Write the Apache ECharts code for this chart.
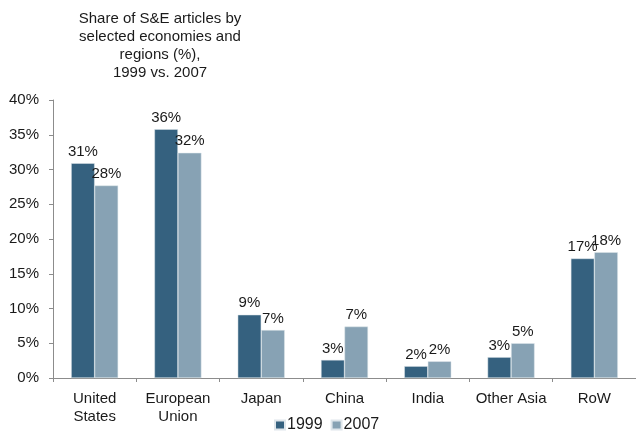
<!DOCTYPE html>
<html>
<head>
<meta charset="utf-8">
<script src="https://cdn.jsdelivr.net/npm/echarts@6/dist/echarts.min.js"></script>
<style>
  html, body { margin: 0; padding: 0; background: #fff; }
  #chart { width: 636px; height: 432px; }
</style>
</head>
<body>
<div id="chart"></div>
<script>
// Share of S&E articles, in percent
const categories = ['United\nStates', 'European\nUnion', 'Japan', 'China', 'India', 'Other Asia', 'RoW'];
const share1999 = [30.9, 35.8, 9.1, 2.6, 1.7, 3.0, 17.2];
const share2007 = [27.7, 32.4, 6.9, 7.4, 2.4, 5.0, 18.1];
const yTicks = [0, 5, 10, 15, 20, 25, 30, 35, 40];

const FONT = '"Liberation Sans", Arial, sans-serif';
const DARK = '#35617f';
const LIGHT = '#87a2b4';

const chart = echarts.init(document.getElementById('chart'), null, { renderer: 'canvas' });

const labelStyle = {
  show: true,
  position: 'top',
  distance: 4,
  fontFamily: FONT,
  fontSize: 15,
  color: '#1a1a1a',
  formatter: p => Math.round(p.value) + '%'
};

chart.setOption({
  animation: false,
  title: {
    text: 'Share of S&E articles by\nselected economies and\nregions (%),\n1999 vs. 2007',
    left: 155,
    top: 5,
    textAlign: 'center',
    textStyle: {
      fontFamily: FONT,
      fontSize: 15,
      fontWeight: 'normal',
      color: '#1a1a1a',
      lineHeight: 18
    }
  },
  legend: {
    top: 412,
    left: 269,
    itemWidth: 10,
    itemHeight: 9,
    itemGap: 8,
    icon: 'rect',
    textStyle: { fontFamily: FONT, fontSize: 16, color: '#1a1a1a', padding: [0, 0, 0, -3] },
    data: ['1999', '2007']
  },
  grid: {
    left: 53,
    top: 100,
    width: 590,
    height: 278,
    containLabel: false
  },
  xAxis: {
    type: 'category',
    data: categories,
    axisLine: { lineStyle: { color: '#8c8c8c', width: 1 } },
    axisTick: { show: true, length: 4, lineStyle: { color: '#8c8c8c' } },
    axisLabel: {
      fontFamily: FONT,
      fontSize: 15,
      color: '#1a1a1a',
      lineHeight: 18,
      margin: 12,
      interval: 0
    }
  },
  yAxis: {
    type: 'value',
    min: yTicks[0],
    max: yTicks[yTicks.length - 1],
    interval: yTicks[1] - yTicks[0],
    splitLine: { show: false },
    axisLine: { show: true, lineStyle: { color: '#8c8c8c', width: 1 } },
    axisTick: { show: true, length: 4, lineStyle: { color: '#8c8c8c' } },
    axisLabel: {
      fontFamily: FONT,
      fontSize: 15,
      color: '#1a1a1a',
      margin: 14,
      formatter: v => v + '%'
    }
  },
  series: [
    {
      name: '1999',
      type: 'bar',
      data: share1999,
      barWidth: 23.5,
      barGap: '0%',
      itemStyle: { color: DARK, borderColor: '#dfe6eb', borderWidth: 0.5 },
      label: labelStyle
    },
    {
      name: '2007',
      type: 'bar',
      data: share2007,
      barWidth: 23.5,
      itemStyle: { color: LIGHT, borderColor: '#dfe6eb', borderWidth: 0.5 },
      label: labelStyle
    }
  ]
});
</script>
</body>
</html>
